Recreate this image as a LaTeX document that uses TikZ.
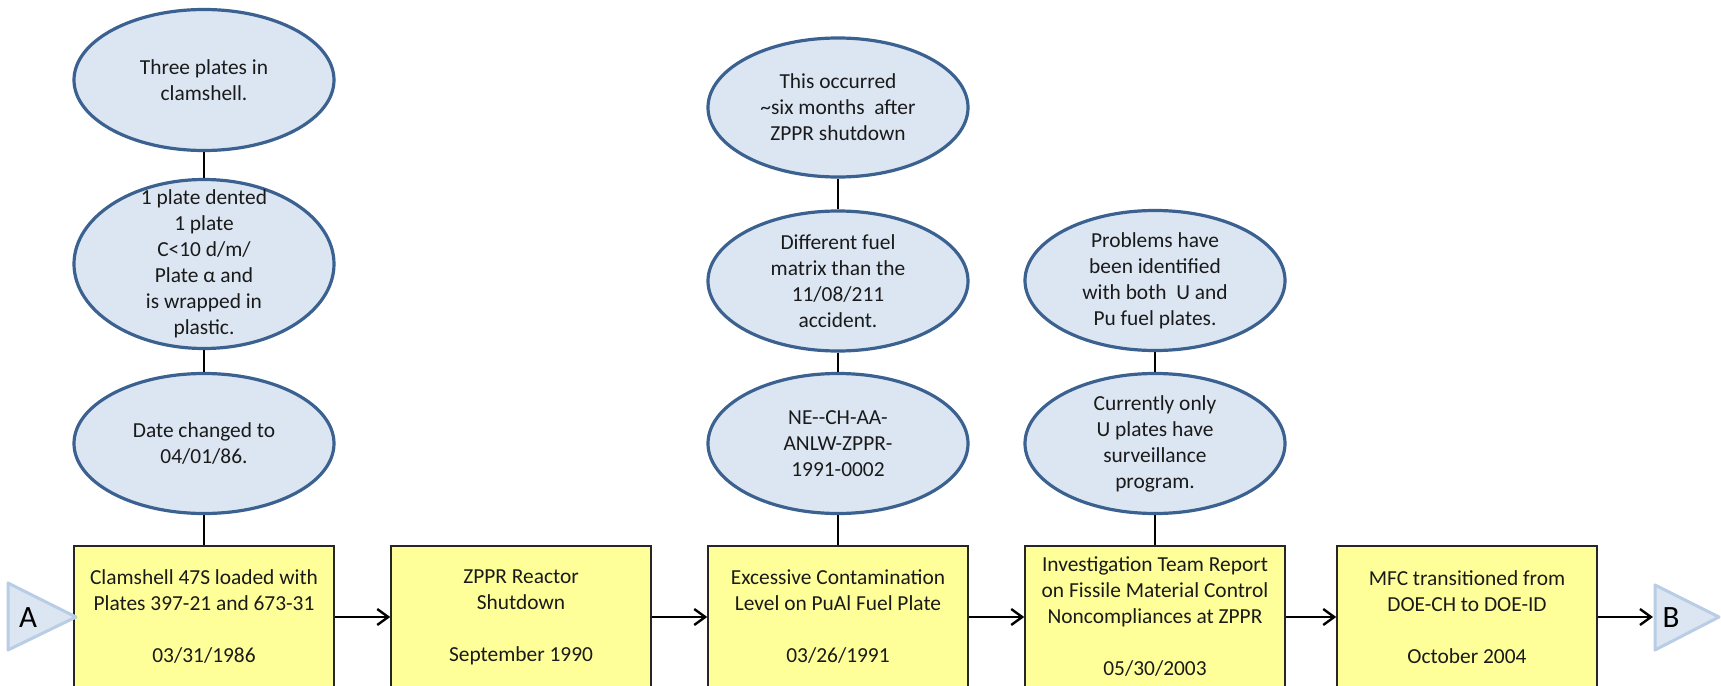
\documentclass[tikz,border=0pt]{standalone}
\usepackage{fontspec}
\setmainfont{Carlito}
\usepackage{tikz}
\usetikzlibrary{arrows.meta}
\usetikzlibrary{shapes.geometric}
\usetikzlibrary{positioning}
\definecolor{tl-box}{HTML}{FFFF99}
\definecolor{tl-bubble}{HTML}{DCE6F2}
\definecolor{tl-edge}{HTML}{3B6190}
\definecolor{tl-tag}{HTML}{B9CDE5}
\definecolor{tl-text}{HTML}{1A1A1A}
\newcommand{\tlfont}{\fontsize{10.7pt}{13pt}\selectfont}

\begin{document}
\begin{tikzpicture}[x=0.5pt, y=-0.5pt, >={Straight Barb[length=5.5pt,width=8pt]},
    eventbox/.style={rectangle, draw=black!85, line width=0.75pt, fill=tl-box, minimum width=130pt, minimum height=71pt, inner sep=0pt, align=center, font=\tlfont, text=tl-text},
    bubble/.style={ellipse, draw=tl-edge, line width=1.6pt, fill=tl-bubble, minimum width=130pt, minimum height=#1, inner sep=0pt},
    bubbletext/.style={align=center, font=\tlfont, text=tl-text, inner sep=0pt},
    tag/.style={draw=tl-tag, fill=tl-bubble, line width=1.5pt, line join=round},
    tagtext/.style={font=\fontsize{15.5pt}{18pt}\selectfont, text=black, inner sep=0pt},
    link/.style={black, line width=1.2pt},
    flow/.style={->, black, line width=1.2pt}]
    \useasboundingbox (0,0) rectangle (1721,686);
    \clip (0,0) rectangle (1721,686);

    % Timeline boxes
    \node[eventbox] (box1) at (204,617) {Clamshell 47S loaded with\\Plates 397-21 and 673-31\\[13pt]03/31/1986};
    \node[eventbox] (box2) at (521,617) {ZPPR Reactor\\Shutdown\\[13pt]September 1990};
    \node[eventbox] (box3) at (838,617) {Excessive Contamination\\Level on PuAl Fuel Plate\\[13pt]03/26/1991};
    \node[eventbox] (box4) at (1155,617) {Investigation Team Report\\on Fissile Material Control\\Noncompliances at ZPPR\\[13pt]05/30/2003};
    \node[eventbox] (box5) at (1467,617) {MFC transitioned from\\DOE-CH to DOE-ID\\[13pt]October 2004};

    % Notes above the boxes
    \node[bubble=70.5pt, label={[bubbletext]center:{Three plates in\\clamshell.}}] (c1a) at (204,80) {};
    \node[bubble=84.5pt, label={[bubbletext]center:{1 plate dented\\1 plate\\C<10 d/m/\\Plate α and\\is wrapped in\\plastic.}}] (c1b) at (204,264) {};
    \node[bubble=70pt, label={[bubbletext]center:{Date changed to\\04/01/86.}}] (c1c) at (204,443.5) {};

    \node[bubble=69.5pt, label={[bubbletext]center:{This occurred\\\textasciitilde six months\ \ after\\ZPPR shutdown}}] (c3a) at (838,107.5) {};
    \node[bubble=70pt, label={[bubbletext]center:{Different fuel\\matrix than the\\11/08/211\\accident.}}] (c3b) at (838,281) {};
    \node[bubble=70pt, label={[bubbletext]center:{NE-{}-CH-AA-\\ANLW-ZPPR-\\1991-0002}}] (c3c) at (838,443.5) {};

    \node[bubble=70pt, label={[bubbletext]center:{Problems have\\been identified\\with both\ \ U and\\Pu fuel plates.}}] (c4a) at (1155,280.5) {};
    \node[bubble=70pt, label={[bubbletext]center:{Currently only\\U plates have\\surveillance\\program.}}] (c4b) at (1155,443.5) {};

    % Off-page connectors
    \draw[tag] (8,583) -- (76,617) -- (8,650) -- cycle;
    \node[tagtext] (tagA) at (28,618) {A};
    \draw[tag] (1655,585) -- (1719,617) -- (1655,650) -- cycle;
    \node[tagtext] (tagB) at (1671,618) {B};
    \coordinate (inB) at (1653,617);

    % Connections
    \draw[link] (c1a) -- (c1b);
    \draw[link] (c1b) -- (c1c);
    \draw[link] (c1c) -- (box1);
    \draw[link] (c3a) -- (c3b);
    \draw[link] (c3b) -- (c3c);
    \draw[link] (c3c) -- (box3);
    \draw[link] (c4a) -- (c4b);
    \draw[link] (c4b) -- (box4);

    \draw[flow] (box1) -- (box2);
    \draw[flow] (box2) -- (box3);
    \draw[flow] (box3) -- (box4);
    \draw[flow] (box4) -- (box5);
    \draw[flow] (box5) -- (inB);
\end{tikzpicture}
\end{document}
